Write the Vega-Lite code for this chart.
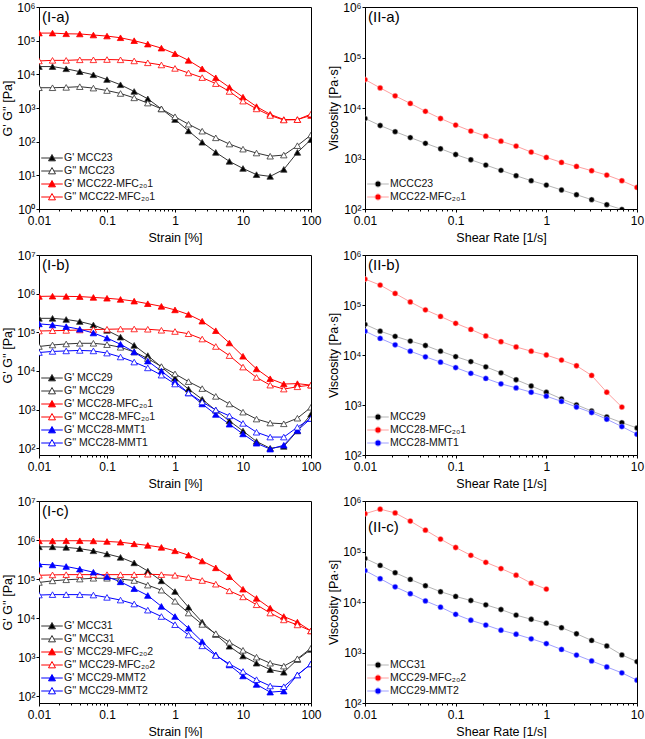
{
"$schema":"https://vega.github.io/schema/vega-lite/v6.json",
"padding":{"left":0,"top":0,"right":0,"bottom":0},
"background":"white",
"config":{
 "font":"Liberation Sans",
 "view":{"stroke":"#000000","strokeWidth":1},
 "axis":{"grid":false,"domainColor":"#000000","domainWidth":1,"tickColor":"#000000","tickSize":3,"labelColor":"#000000","labelFontSize":12,"titleColor":"#000000","titleFontSize":12.5,"titleFontWeight":"normal","labelPadding":1,"titlePadding":2,"labelFlush":false,"labelOverlap":false},
 "axisX":{"titlePadding":5,"labelPadding":3},
 "legend":{"orient":"bottom-left","offset":3,"padding":3,"labelFontSize":10.5,"labelColor":"#111111","symbolSize":160,"symbolStrokeWidth":1,"rowPadding":0,"symbolOffset":0,"labelOffset":5},
 "title":{"anchor":"start","frame":"group","fontSize":15,"fontWeight":"normal","offset":-24,"dx":3,"color":"#000000"}
},
"datasets":{
"Ia":[
{"s":"G' MCC23","x":0.01,"y":17000},{"s":"G' MCC23","x":0.0158,"y":17000},{"s":"G' MCC23","x":0.0251,"y":14600},{"s":"G' MCC23","x":0.0398,"y":12000},{"s":"G' MCC23","x":0.0631,"y":9700},{"s":"G' MCC23","x":0.1,"y":7000},{"s":"G' MCC23","x":0.158,"y":4900},{"s":"G' MCC23","x":0.251,"y":3100},{"s":"G' MCC23","x":0.398,"y":1870},{"s":"G' MCC23","x":0.631,"y":940},{"s":"G' MCC23","x":1,"y":454},{"s":"G' MCC23","x":1.58,"y":209},{"s":"G' MCC23","x":2.51,"y":96},{"s":"G' MCC23","x":3.98,"y":48},{"s":"G' MCC23","x":6.31,"y":26},{"s":"G' MCC23","x":10,"y":16},{"s":"G' MCC23","x":15.8,"y":10.5},{"s":"G' MCC23","x":25.1,"y":9.3},{"s":"G' MCC23","x":39.8,"y":15},{"s":"G' MCC23","x":63.1,"y":48},{"s":"G' MCC23","x":100,"y":115},
{"s":"G'' MCC23","x":0.01,"y":4000},{"s":"G'' MCC23","x":0.0158,"y":4000},{"s":"G'' MCC23","x":0.0251,"y":4100},{"s":"G'' MCC23","x":0.0398,"y":4300},{"s":"G'' MCC23","x":0.0631,"y":3900},{"s":"G'' MCC23","x":0.1,"y":3300},{"s":"G'' MCC23","x":0.158,"y":2700},{"s":"G'' MCC23","x":0.251,"y":2000},{"s":"G'' MCC23","x":0.398,"y":1400},{"s":"G'' MCC23","x":0.631,"y":940},{"s":"G'' MCC23","x":1,"y":550},{"s":"G'' MCC23","x":1.58,"y":330},{"s":"G'' MCC23","x":2.51,"y":205},{"s":"G'' MCC23","x":3.98,"y":130},{"s":"G'' MCC23","x":6.31,"y":85},{"s":"G'' MCC23","x":10,"y":60},{"s":"G'' MCC23","x":15.8,"y":46},{"s":"G'' MCC23","x":25.1,"y":37},{"s":"G'' MCC23","x":39.8,"y":40},{"s":"G'' MCC23","x":63.1,"y":76},{"s":"G'' MCC23","x":100,"y":158},
{"s":"G' MCC22-MFC₂₀1","x":0.01,"y":168000},{"s":"G' MCC22-MFC₂₀1","x":0.0158,"y":168000},{"s":"G' MCC22-MFC₂₀1","x":0.0251,"y":160000},{"s":"G' MCC22-MFC₂₀1","x":0.0398,"y":158000},{"s":"G' MCC22-MFC₂₀1","x":0.0631,"y":147000},{"s":"G' MCC22-MFC₂₀1","x":0.1,"y":137000},{"s":"G' MCC22-MFC₂₀1","x":0.158,"y":122000},{"s":"G' MCC22-MFC₂₀1","x":0.251,"y":100000},{"s":"G' MCC22-MFC₂₀1","x":0.398,"y":79000},{"s":"G' MCC22-MFC₂₀1","x":0.631,"y":60000},{"s":"G' MCC22-MFC₂₀1","x":1,"y":41000},{"s":"G' MCC22-MFC₂₀1","x":1.58,"y":26000},{"s":"G' MCC22-MFC₂₀1","x":2.51,"y":14600},{"s":"G' MCC22-MFC₂₀1","x":3.98,"y":7900},{"s":"G' MCC22-MFC₂₀1","x":6.31,"y":4100},{"s":"G' MCC22-MFC₂₀1","x":10,"y":2100},{"s":"G' MCC22-MFC₂₀1","x":15.8,"y":1100},{"s":"G' MCC22-MFC₂₀1","x":25.1,"y":650},{"s":"G' MCC22-MFC₂₀1","x":39.8,"y":455},{"s":"G' MCC22-MFC₂₀1","x":63.1,"y":455},{"s":"G' MCC22-MFC₂₀1","x":100,"y":600},
{"s":"G'' MCC22-MFC₂₀1","x":0.01,"y":25000},{"s":"G'' MCC22-MFC₂₀1","x":0.0158,"y":26000},{"s":"G'' MCC22-MFC₂₀1","x":0.0251,"y":26000},{"s":"G'' MCC22-MFC₂₀1","x":0.0398,"y":27000},{"s":"G'' MCC22-MFC₂₀1","x":0.0631,"y":27000},{"s":"G'' MCC22-MFC₂₀1","x":0.1,"y":27500},{"s":"G'' MCC22-MFC₂₀1","x":0.158,"y":27000},{"s":"G'' MCC22-MFC₂₀1","x":0.251,"y":25000},{"s":"G'' MCC22-MFC₂₀1","x":0.398,"y":22000},{"s":"G'' MCC22-MFC₂₀1","x":0.631,"y":19000},{"s":"G'' MCC22-MFC₂₀1","x":1,"y":15000},{"s":"G'' MCC22-MFC₂₀1","x":1.58,"y":11000},{"s":"G'' MCC22-MFC₂₀1","x":2.51,"y":8000},{"s":"G'' MCC22-MFC₂₀1","x":3.98,"y":5300},{"s":"G'' MCC22-MFC₂₀1","x":6.31,"y":3100},{"s":"G'' MCC22-MFC₂₀1","x":10,"y":1600},{"s":"G'' MCC22-MFC₂₀1","x":15.8,"y":940},{"s":"G'' MCC22-MFC₂₀1","x":25.1,"y":600},{"s":"G'' MCC22-MFC₂₀1","x":39.8,"y":440},{"s":"G'' MCC22-MFC₂₀1","x":63.1,"y":450},{"s":"G'' MCC22-MFC₂₀1","x":100,"y":660}
],
"IIa":[
{"s":"MCCC23","x":0.01,"y":6200},{"s":"MCCC23","x":0.0147,"y":4500},{"s":"MCCC23","x":0.0215,"y":3400},{"s":"MCCC23","x":0.0316,"y":2600},{"s":"MCCC23","x":0.0464,"y":2000},{"s":"MCCC23","x":0.0681,"y":1560},{"s":"MCCC23","x":0.1,"y":1200},{"s":"MCCC23","x":0.147,"y":944},{"s":"MCCC23","x":0.215,"y":742},{"s":"MCCC23","x":0.316,"y":582},{"s":"MCCC23","x":0.464,"y":457},{"s":"MCCC23","x":0.681,"y":363},{"s":"MCCC23","x":1,"y":298},{"s":"MCCC23","x":1.47,"y":238},{"s":"MCCC23","x":2.15,"y":192},{"s":"MCCC23","x":3.16,"y":153},{"s":"MCCC23","x":4.64,"y":122},{"s":"MCCC23","x":6.81,"y":98},
{"s":"MCC22-MFC₂₀1","x":0.01,"y":36600},{"s":"MCC22-MFC₂₀1","x":0.0147,"y":25000},{"s":"MCC22-MFC₂₀1","x":0.0215,"y":17400},{"s":"MCC22-MFC₂₀1","x":0.0316,"y":12300},{"s":"MCC22-MFC₂₀1","x":0.0464,"y":8600},{"s":"MCC22-MFC₂₀1","x":0.0681,"y":6200},{"s":"MCC22-MFC₂₀1","x":0.1,"y":4600},{"s":"MCC22-MFC₂₀1","x":0.147,"y":3500},{"s":"MCC22-MFC₂₀1","x":0.215,"y":2770},{"s":"MCC22-MFC₂₀1","x":0.316,"y":2200},{"s":"MCC22-MFC₂₀1","x":0.464,"y":1760},{"s":"MCC22-MFC₂₀1","x":0.681,"y":1340},{"s":"MCC22-MFC₂₀1","x":1,"y":1050},{"s":"MCC22-MFC₂₀1","x":1.47,"y":837},{"s":"MCC22-MFC₂₀1","x":2.15,"y":697},{"s":"MCC22-MFC₂₀1","x":3.16,"y":573},{"s":"MCC22-MFC₂₀1","x":4.64,"y":470},{"s":"MCC22-MFC₂₀1","x":6.81,"y":363},{"s":"MCC22-MFC₂₀1","x":10,"y":268}
],
"Ib":[
{"s":"G' MCC29","x":0.01,"y":230000},{"s":"G' MCC29","x":0.0158,"y":230000},{"s":"G' MCC29","x":0.0251,"y":215000},{"s":"G' MCC29","x":0.0398,"y":190000},{"s":"G' MCC29","x":0.0631,"y":155000},{"s":"G' MCC29","x":0.1,"y":112000},{"s":"G' MCC29","x":0.158,"y":75000},{"s":"G' MCC29","x":0.251,"y":46000},{"s":"G' MCC29","x":0.398,"y":25000},{"s":"G' MCC29","x":0.631,"y":12700},{"s":"G' MCC29","x":1,"y":6500},{"s":"G' MCC29","x":1.58,"y":3400},{"s":"G' MCC29","x":2.51,"y":1850},{"s":"G' MCC29","x":3.98,"y":960},{"s":"G' MCC29","x":6.31,"y":510},{"s":"G' MCC29","x":10,"y":280},{"s":"G' MCC29","x":15.8,"y":150},{"s":"G' MCC29","x":25.1,"y":100},{"s":"G' MCC29","x":39.8,"y":112},{"s":"G' MCC29","x":63.1,"y":280},{"s":"G' MCC29","x":100,"y":760},
{"s":"G'' MCC29","x":0.01,"y":43000},{"s":"G'' MCC29","x":0.0158,"y":47000},{"s":"G'' MCC29","x":0.0251,"y":50000},{"s":"G'' MCC29","x":0.0398,"y":52000},{"s":"G'' MCC29","x":0.0631,"y":52000},{"s":"G'' MCC29","x":0.1,"y":48000},{"s":"G'' MCC29","x":0.158,"y":41000},{"s":"G'' MCC29","x":0.251,"y":31000},{"s":"G'' MCC29","x":0.398,"y":21000},{"s":"G'' MCC29","x":0.631,"y":13000},{"s":"G'' MCC29","x":1,"y":8400},{"s":"G'' MCC29","x":1.58,"y":5300},{"s":"G'' MCC29","x":2.51,"y":3500},{"s":"G'' MCC29","x":3.98,"y":2200},{"s":"G'' MCC29","x":6.31,"y":1400},{"s":"G'' MCC29","x":10,"y":860},{"s":"G'' MCC29","x":15.8,"y":570},{"s":"G'' MCC29","x":25.1,"y":450},{"s":"G'' MCC29","x":39.8,"y":430},{"s":"G'' MCC29","x":63.1,"y":600},{"s":"G'' MCC29","x":100,"y":1150},
{"s":"G' MCC28-MFC₂₀1","x":0.01,"y":850000},{"s":"G' MCC28-MFC₂₀1","x":0.0158,"y":860000},{"s":"G' MCC28-MFC₂₀1","x":0.0251,"y":850000},{"s":"G' MCC28-MFC₂₀1","x":0.0398,"y":840000},{"s":"G' MCC28-MFC₂₀1","x":0.0631,"y":800000},{"s":"G' MCC28-MFC₂₀1","x":0.1,"y":760000},{"s":"G' MCC28-MFC₂₀1","x":0.158,"y":710000},{"s":"G' MCC28-MFC₂₀1","x":0.251,"y":640000},{"s":"G' MCC28-MFC₂₀1","x":0.398,"y":550000},{"s":"G' MCC28-MFC₂₀1","x":0.631,"y":470000},{"s":"G' MCC28-MFC₂₀1","x":1,"y":380000},{"s":"G' MCC28-MFC₂₀1","x":1.58,"y":290000},{"s":"G' MCC28-MFC₂₀1","x":2.51,"y":194000},{"s":"G' MCC28-MFC₂₀1","x":3.98,"y":110000},{"s":"G' MCC28-MFC₂₀1","x":6.31,"y":53000},{"s":"G' MCC28-MFC₂₀1","x":10,"y":24000},{"s":"G' MCC28-MFC₂₀1","x":15.8,"y":11300},{"s":"G' MCC28-MFC₂₀1","x":25.1,"y":6300},{"s":"G' MCC28-MFC₂₀1","x":39.8,"y":4600},{"s":"G' MCC28-MFC₂₀1","x":63.1,"y":4700},{"s":"G' MCC28-MFC₂₀1","x":100,"y":4300},
{"s":"G'' MCC28-MFC₂₀1","x":0.01,"y":108000},{"s":"G'' MCC28-MFC₂₀1","x":0.0158,"y":110000},{"s":"G'' MCC28-MFC₂₀1","x":0.0251,"y":112000},{"s":"G'' MCC28-MFC₂₀1","x":0.0398,"y":115000},{"s":"G'' MCC28-MFC₂₀1","x":0.0631,"y":118000},{"s":"G'' MCC28-MFC₂₀1","x":0.1,"y":120000},{"s":"G'' MCC28-MFC₂₀1","x":0.158,"y":122000},{"s":"G'' MCC28-MFC₂₀1","x":0.251,"y":122000},{"s":"G'' MCC28-MFC₂₀1","x":0.398,"y":120000},{"s":"G'' MCC28-MFC₂₀1","x":0.631,"y":113000},{"s":"G'' MCC28-MFC₂₀1","x":1,"y":105000},{"s":"G'' MCC28-MFC₂₀1","x":1.58,"y":92000},{"s":"G'' MCC28-MFC₂₀1","x":2.51,"y":67000},{"s":"G'' MCC28-MFC₂₀1","x":3.98,"y":43000},{"s":"G'' MCC28-MFC₂₀1","x":6.31,"y":25000},{"s":"G'' MCC28-MFC₂₀1","x":10,"y":12600},{"s":"G'' MCC28-MFC₂₀1","x":15.8,"y":6800},{"s":"G'' MCC28-MFC₂₀1","x":25.1,"y":4300},{"s":"G'' MCC28-MFC₂₀1","x":39.8,"y":3400},{"s":"G'' MCC28-MFC₂₀1","x":63.1,"y":3900},{"s":"G'' MCC28-MFC₂₀1","x":100,"y":4300},
{"s":"G' MCC28-MMT1","x":0.01,"y":165000},{"s":"G' MCC28-MMT1","x":0.0158,"y":155000},{"s":"G' MCC28-MMT1","x":0.0251,"y":140000},{"s":"G' MCC28-MMT1","x":0.0398,"y":120000},{"s":"G' MCC28-MMT1","x":0.0631,"y":96000},{"s":"G' MCC28-MMT1","x":0.1,"y":71000},{"s":"G' MCC28-MMT1","x":0.158,"y":49000},{"s":"G' MCC28-MMT1","x":0.251,"y":31000},{"s":"G' MCC28-MMT1","x":0.398,"y":18000},{"s":"G' MCC28-MMT1","x":0.631,"y":9900},{"s":"G' MCC28-MMT1","x":1,"y":5300},{"s":"G' MCC28-MMT1","x":1.58,"y":2700},{"s":"G' MCC28-MMT1","x":2.51,"y":1400},{"s":"G' MCC28-MMT1","x":3.98,"y":750},{"s":"G' MCC28-MMT1","x":6.31,"y":420},{"s":"G' MCC28-MMT1","x":10,"y":235},{"s":"G' MCC28-MMT1","x":15.8,"y":135},{"s":"G' MCC28-MMT1","x":25.1,"y":95},{"s":"G' MCC28-MMT1","x":39.8,"y":120},{"s":"G' MCC28-MMT1","x":63.1,"y":290},{"s":"G' MCC28-MMT1","x":100,"y":590},
{"s":"G'' MCC28-MMT1","x":0.01,"y":30000},{"s":"G'' MCC28-MMT1","x":0.0158,"y":32000},{"s":"G'' MCC28-MMT1","x":0.0251,"y":33000},{"s":"G'' MCC28-MMT1","x":0.0398,"y":34000},{"s":"G'' MCC28-MMT1","x":0.0631,"y":33000},{"s":"G'' MCC28-MMT1","x":0.1,"y":29000},{"s":"G'' MCC28-MMT1","x":0.158,"y":23000},{"s":"G'' MCC28-MMT1","x":0.251,"y":17000},{"s":"G'' MCC28-MMT1","x":0.398,"y":12000},{"s":"G'' MCC28-MMT1","x":0.631,"y":7800},{"s":"G'' MCC28-MMT1","x":1,"y":4600},{"s":"G'' MCC28-MMT1","x":1.58,"y":2700},{"s":"G'' MCC28-MMT1","x":2.51,"y":1580},{"s":"G'' MCC28-MMT1","x":3.98,"y":980},{"s":"G'' MCC28-MMT1","x":6.31,"y":690},{"s":"G'' MCC28-MMT1","x":10,"y":440},{"s":"G'' MCC28-MMT1","x":15.8,"y":260},{"s":"G'' MCC28-MMT1","x":25.1,"y":195},{"s":"G'' MCC28-MMT1","x":39.8,"y":195},{"s":"G'' MCC28-MMT1","x":63.1,"y":350},{"s":"G'' MCC28-MMT1","x":100,"y":590}
],
"IIb":[
{"s":"MCC29","x":0.01,"y":41000},{"s":"MCC29","x":0.0147,"y":30000},{"s":"MCC29","x":0.0215,"y":23600},{"s":"MCC29","x":0.0316,"y":19000},{"s":"MCC29","x":0.0464,"y":15500},{"s":"MCC29","x":0.0681,"y":11900},{"s":"MCC29","x":0.1,"y":9300},{"s":"MCC29","x":0.147,"y":7400},{"s":"MCC29","x":0.215,"y":5800},{"s":"MCC29","x":0.316,"y":4400},{"s":"MCC29","x":0.464,"y":3200},{"s":"MCC29","x":0.681,"y":2400},{"s":"MCC29","x":1,"y":1800},{"s":"MCC29","x":1.47,"y":1330},{"s":"MCC29","x":2.15,"y":1010},{"s":"MCC29","x":3.16,"y":758},{"s":"MCC29","x":4.64,"y":577},{"s":"MCC29","x":6.81,"y":444},{"s":"MCC29","x":10,"y":347},
{"s":"MCC28-MFC₂₀1","x":0.01,"y":330000},{"s":"MCC28-MFC₂₀1","x":0.0147,"y":250000},{"s":"MCC28-MFC₂₀1","x":0.0215,"y":170000},{"s":"MCC28-MFC₂₀1","x":0.0316,"y":115000},{"s":"MCC28-MFC₂₀1","x":0.0464,"y":80000},{"s":"MCC28-MFC₂₀1","x":0.0681,"y":59000},{"s":"MCC28-MFC₂₀1","x":0.1,"y":43000},{"s":"MCC28-MFC₂₀1","x":0.147,"y":32500},{"s":"MCC28-MFC₂₀1","x":0.215,"y":24000},{"s":"MCC28-MFC₂₀1","x":0.316,"y":18500},{"s":"MCC28-MFC₂₀1","x":0.464,"y":14500},{"s":"MCC28-MFC₂₀1","x":0.681,"y":11900},{"s":"MCC28-MFC₂₀1","x":1,"y":10000},{"s":"MCC28-MFC₂₀1","x":1.47,"y":7900},{"s":"MCC28-MFC₂₀1","x":2.15,"y":6100},{"s":"MCC28-MFC₂₀1","x":3.16,"y":3900},{"s":"MCC28-MFC₂₀1","x":4.64,"y":1800},{"s":"MCC28-MFC₂₀1","x":6.81,"y":910},
{"s":"MCC28-MMT1","x":0.01,"y":30000},{"s":"MCC28-MMT1","x":0.0147,"y":21500},{"s":"MCC28-MMT1","x":0.0215,"y":16000},{"s":"MCC28-MMT1","x":0.0316,"y":11900},{"s":"MCC28-MMT1","x":0.0464,"y":9200},{"s":"MCC28-MMT1","x":0.0681,"y":7200},{"s":"MCC28-MMT1","x":0.1,"y":5600},{"s":"MCC28-MMT1","x":0.147,"y":4300},{"s":"MCC28-MMT1","x":0.215,"y":3400},{"s":"MCC28-MMT1","x":0.316,"y":2650},{"s":"MCC28-MMT1","x":0.464,"y":2200},{"s":"MCC28-MMT1","x":0.681,"y":1800},{"s":"MCC28-MMT1","x":1,"y":1500},{"s":"MCC28-MMT1","x":1.47,"y":1180},{"s":"MCC28-MMT1","x":2.15,"y":910},{"s":"MCC28-MMT1","x":3.16,"y":706},{"s":"MCC28-MMT1","x":4.64,"y":519},{"s":"MCC28-MMT1","x":6.81,"y":370},{"s":"MCC28-MMT1","x":10,"y":260}
],
"Ic":[
{"s":"G' MCC31","x":0.01,"y":670000},{"s":"G' MCC31","x":0.0158,"y":670000},{"s":"G' MCC31","x":0.0251,"y":650000},{"s":"G' MCC31","x":0.0398,"y":600000},{"s":"G' MCC31","x":0.0631,"y":530000},{"s":"G' MCC31","x":0.1,"y":440000},{"s":"G' MCC31","x":0.158,"y":360000},{"s":"G' MCC31","x":0.251,"y":260000},{"s":"G' MCC31","x":0.398,"y":160000},{"s":"G' MCC31","x":0.631,"y":90000},{"s":"G' MCC31","x":1,"y":48000},{"s":"G' MCC31","x":1.58,"y":19000},{"s":"G' MCC31","x":2.51,"y":7900},{"s":"G' MCC31","x":3.98,"y":3800},{"s":"G' MCC31","x":6.31,"y":1900},{"s":"G' MCC31","x":10,"y":1070},{"s":"G' MCC31","x":15.8,"y":700},{"s":"G' MCC31","x":25.1,"y":480},{"s":"G' MCC31","x":39.8,"y":410},{"s":"G' MCC31","x":63.1,"y":870},{"s":"G' MCC31","x":100,"y":1580},
{"s":"G'' MCC31","x":0.01,"y":82000},{"s":"G'' MCC31","x":0.0158,"y":90000},{"s":"G'' MCC31","x":0.0251,"y":96000},{"s":"G'' MCC31","x":0.0398,"y":100000},{"s":"G'' MCC31","x":0.0631,"y":105000},{"s":"G'' MCC31","x":0.1,"y":105000},{"s":"G'' MCC31","x":0.158,"y":100000},{"s":"G'' MCC31","x":0.251,"y":92000},{"s":"G'' MCC31","x":0.398,"y":70000},{"s":"G'' MCC31","x":0.631,"y":52000},{"s":"G'' MCC31","x":1,"y":27000},{"s":"G'' MCC31","x":1.58,"y":13500},{"s":"G'' MCC31","x":2.51,"y":6900},{"s":"G'' MCC31","x":3.98,"y":4000},{"s":"G'' MCC31","x":6.31,"y":2400},{"s":"G'' MCC31","x":10,"y":1500},{"s":"G'' MCC31","x":15.8,"y":1000},{"s":"G'' MCC31","x":25.1,"y":700},{"s":"G'' MCC31","x":39.8,"y":590},{"s":"G'' MCC31","x":63.1,"y":910},{"s":"G'' MCC31","x":100,"y":1700},
{"s":"G' MCC29-MFC₂₀2","x":0.01,"y":950000},{"s":"G' MCC29-MFC₂₀2","x":0.0158,"y":950000},{"s":"G' MCC29-MFC₂₀2","x":0.0251,"y":960000},{"s":"G' MCC29-MFC₂₀2","x":0.0398,"y":960000},{"s":"G' MCC29-MFC₂₀2","x":0.0631,"y":950000},{"s":"G' MCC29-MFC₂₀2","x":0.1,"y":920000},{"s":"G' MCC29-MFC₂₀2","x":0.158,"y":880000},{"s":"G' MCC29-MFC₂₀2","x":0.251,"y":800000},{"s":"G' MCC29-MFC₂₀2","x":0.398,"y":730000},{"s":"G' MCC29-MFC₂₀2","x":0.631,"y":650000},{"s":"G' MCC29-MFC₂₀2","x":1,"y":530000},{"s":"G' MCC29-MFC₂₀2","x":1.58,"y":410000},{"s":"G' MCC29-MFC₂₀2","x":2.51,"y":290000},{"s":"G' MCC29-MFC₂₀2","x":3.98,"y":194000},{"s":"G' MCC29-MFC₂₀2","x":6.31,"y":115000},{"s":"G' MCC29-MFC₂₀2","x":10,"y":55000},{"s":"G' MCC29-MFC₂₀2","x":15.8,"y":32000},{"s":"G' MCC29-MFC₂₀2","x":25.1,"y":18000},{"s":"G' MCC29-MFC₂₀2","x":39.8,"y":11000},{"s":"G' MCC29-MFC₂₀2","x":63.1,"y":7900},{"s":"G' MCC29-MFC₂₀2","x":100,"y":4700},
{"s":"G'' MCC29-MFC₂₀2","x":0.01,"y":125000},{"s":"G'' MCC29-MFC₂₀2","x":0.0158,"y":128000},{"s":"G'' MCC29-MFC₂₀2","x":0.0251,"y":130000},{"s":"G'' MCC29-MFC₂₀2","x":0.0398,"y":130000},{"s":"G'' MCC29-MFC₂₀2","x":0.0631,"y":130000},{"s":"G'' MCC29-MFC₂₀2","x":0.1,"y":130000},{"s":"G'' MCC29-MFC₂₀2","x":0.158,"y":130000},{"s":"G'' MCC29-MFC₂₀2","x":0.251,"y":130000},{"s":"G'' MCC29-MFC₂₀2","x":0.398,"y":133000},{"s":"G'' MCC29-MFC₂₀2","x":0.631,"y":130000},{"s":"G'' MCC29-MFC₂₀2","x":1,"y":125000},{"s":"G'' MCC29-MFC₂₀2","x":1.58,"y":110000},{"s":"G'' MCC29-MFC₂₀2","x":2.51,"y":92000},{"s":"G'' MCC29-MFC₂₀2","x":3.98,"y":74000},{"s":"G'' MCC29-MFC₂₀2","x":6.31,"y":50000},{"s":"G'' MCC29-MFC₂₀2","x":10,"y":35000},{"s":"G'' MCC29-MFC₂₀2","x":15.8,"y":22000},{"s":"G'' MCC29-MFC₂₀2","x":25.1,"y":13500},{"s":"G'' MCC29-MFC₂₀2","x":39.8,"y":9000},{"s":"G'' MCC29-MFC₂₀2","x":63.1,"y":6700},{"s":"G'' MCC29-MFC₂₀2","x":100,"y":4700},
{"s":"G' MCC29-MMT2","x":0.01,"y":240000},{"s":"G' MCC29-MMT2","x":0.0158,"y":230000},{"s":"G' MCC29-MMT2","x":0.0251,"y":210000},{"s":"G' MCC29-MMT2","x":0.0398,"y":180000},{"s":"G' MCC29-MMT2","x":0.0631,"y":150000},{"s":"G' MCC29-MMT2","x":0.1,"y":115000},{"s":"G' MCC29-MMT2","x":0.158,"y":85000},{"s":"G' MCC29-MMT2","x":0.251,"y":57000},{"s":"G' MCC29-MMT2","x":0.398,"y":38000},{"s":"G' MCC29-MMT2","x":0.631,"y":20000},{"s":"G' MCC29-MMT2","x":1,"y":11000},{"s":"G' MCC29-MMT2","x":1.58,"y":5500},{"s":"G' MCC29-MMT2","x":2.51,"y":2500},{"s":"G' MCC29-MMT2","x":3.98,"y":1150},{"s":"G' MCC29-MMT2","x":6.31,"y":630},{"s":"G' MCC29-MMT2","x":10,"y":330},{"s":"G' MCC29-MMT2","x":15.8,"y":200},{"s":"G' MCC29-MMT2","x":25.1,"y":127},{"s":"G' MCC29-MMT2","x":39.8,"y":135},{"s":"G' MCC29-MMT2","x":63.1,"y":350},{"s":"G' MCC29-MMT2","x":100,"y":670},
{"s":"G'' MCC29-MMT2","x":0.01,"y":39000},{"s":"G'' MCC29-MMT2","x":0.0158,"y":40000},{"s":"G'' MCC29-MMT2","x":0.0251,"y":40000},{"s":"G'' MCC29-MMT2","x":0.0398,"y":40000},{"s":"G'' MCC29-MMT2","x":0.0631,"y":39000},{"s":"G'' MCC29-MMT2","x":0.1,"y":34000},{"s":"G'' MCC29-MMT2","x":0.158,"y":29000},{"s":"G'' MCC29-MMT2","x":0.251,"y":23000},{"s":"G'' MCC29-MMT2","x":0.398,"y":16000},{"s":"G'' MCC29-MMT2","x":0.631,"y":11000},{"s":"G'' MCC29-MMT2","x":1,"y":6800},{"s":"G'' MCC29-MMT2","x":1.58,"y":3700},{"s":"G'' MCC29-MMT2","x":2.51,"y":1950},{"s":"G'' MCC29-MMT2","x":3.98,"y":1100},{"s":"G'' MCC29-MMT2","x":6.31,"y":670},{"s":"G'' MCC29-MMT2","x":10,"y":430},{"s":"G'' MCC29-MMT2","x":15.8,"y":265},{"s":"G'' MCC29-MMT2","x":25.1,"y":183},{"s":"G'' MCC29-MMT2","x":39.8,"y":175},{"s":"G'' MCC29-MMT2","x":63.1,"y":350},{"s":"G'' MCC29-MMT2","x":100,"y":670}
],
"IIc":[
{"s":"MCC31","x":0.01,"y":73000},{"s":"MCC31","x":0.0147,"y":53000},{"s":"MCC31","x":0.0215,"y":38000},{"s":"MCC31","x":0.0316,"y":28000},{"s":"MCC31","x":0.0464,"y":21000},{"s":"MCC31","x":0.0681,"y":16000},{"s":"MCC31","x":0.1,"y":12900},{"s":"MCC31","x":0.147,"y":10700},{"s":"MCC31","x":0.215,"y":8800},{"s":"MCC31","x":0.316,"y":7100},{"s":"MCC31","x":0.464,"y":5500},{"s":"MCC31","x":0.681,"y":4550},{"s":"MCC31","x":1,"y":3800},{"s":"MCC31","x":1.47,"y":3100},{"s":"MCC31","x":2.15,"y":2350},{"s":"MCC31","x":3.16,"y":1730},{"s":"MCC31","x":4.64,"y":1350},{"s":"MCC31","x":6.81,"y":895},{"s":"MCC31","x":10,"y":660},
{"s":"MCC29-MFC₂₀2","x":0.01,"y":560000},{"s":"MCC29-MFC₂₀2","x":0.0147,"y":690000},{"s":"MCC29-MFC₂₀2","x":0.0215,"y":580000},{"s":"MCC29-MFC₂₀2","x":0.0316,"y":400000},{"s":"MCC29-MFC₂₀2","x":0.0464,"y":265000},{"s":"MCC29-MFC₂₀2","x":0.0681,"y":176000},{"s":"MCC29-MFC₂₀2","x":0.1,"y":120000},{"s":"MCC29-MFC₂₀2","x":0.147,"y":84000},{"s":"MCC29-MFC₂₀2","x":0.215,"y":61000},{"s":"MCC29-MFC₂₀2","x":0.316,"y":46000},{"s":"MCC29-MFC₂₀2","x":0.464,"y":34000},{"s":"MCC29-MFC₂₀2","x":0.681,"y":23600},{"s":"MCC29-MFC₂₀2","x":1,"y":18000},
{"s":"MCC29-MMT2","x":0.01,"y":42000},{"s":"MCC29-MMT2","x":0.0147,"y":29000},{"s":"MCC29-MMT2","x":0.0215,"y":20000},{"s":"MCC29-MMT2","x":0.0316,"y":14600},{"s":"MCC29-MMT2","x":0.0464,"y":10500},{"s":"MCC29-MMT2","x":0.0681,"y":7900},{"s":"MCC29-MMT2","x":0.1,"y":5700},{"s":"MCC29-MMT2","x":0.147,"y":4350},{"s":"MCC29-MMT2","x":0.215,"y":3500},{"s":"MCC29-MMT2","x":0.316,"y":2760},{"s":"MCC29-MMT2","x":0.464,"y":2300},{"s":"MCC29-MMT2","x":0.681,"y":1870},{"s":"MCC29-MMT2","x":1,"y":1500},{"s":"MCC29-MMT2","x":1.47,"y":1150},{"s":"MCC29-MMT2","x":2.15,"y":890},{"s":"MCC29-MMT2","x":3.16,"y":680},{"s":"MCC29-MMT2","x":4.64,"y":518},{"s":"MCC29-MMT2","x":6.81,"y":395},{"s":"MCC29-MMT2","x":10,"y":283}
]
},
"columns":2,
"spacing":{"row":4,"column":4},
"resolve":{"scale":{"x":"independent","y":"independent","fill":"independent","stroke":"independent"},"legend":{"fill":"independent","stroke":"independent"}},
"concat":[
{"width":272,"height":202,"title":{"text":"(I-a)"},"data":{"name":"Ia"},
 "resolve":{"axis":{"x":"independent"}},
 "encoding":{
  "x":{"field":"x","type":"quantitative","scale":{"type":"log","domain":[0.01,100],"nice":false},"axis":{"orient":"bottom","values":[0.01,0.1,1,10,100],"format":"~g","title":"Strain [%]"}},
  "y":{"field":"y","type":"quantitative","scale":{"type":"log","domain":[1,1000000],"nice":false},"axis":{"values":[1,10,100,1000,10000,100000,1000000],"labelExpr":"'10' + ['⁰','¹','²','³','⁴','⁵','⁶','⁷','⁸'][round(log(datum.value)/LN10)]","title":"G' G'' [Pa]"}},
  "stroke":{"field":"s","type":"nominal","scale":{"domain":["G' MCC23","G'' MCC23","G' MCC22-MFC₂₀1","G'' MCC22-MFC₂₀1"],"range":["#333333","#333333","#ff0000","#ff0000"]},"legend":{"title":null,"symbolType":"M-1.7,0H-0.3M0.3,0H1.7M0,-0.55L0.55,0.45L-0.55,0.45Z"}}
 },
 "layer":[
  {"mark":{"type":"line","strokeWidth":1,"clip":true},"encoding":{"x":{"field":"x","type":"quantitative","axis":{"orient":"bottom","values":[0.02,0.03,0.04,0.05,0.06,0.07,0.08,0.09,0.2,0.3,0.4,0.5,0.6,0.7,0.8,0.9,2,3,4,5,6,7,8,9,20,30,40,50,60,70,80,90],"labels":false,"domain":false,"tickSize":2,"title":null}}}},
  {"mark":{"type":"point","shape":"triangle-up","filled":true,"size":42,"strokeWidth":0.8,"opacity":1,"clip":true},
   "encoding":{"fill":{"field":"s","type":"nominal","scale":{"domain":["G' MCC23","G'' MCC23","G' MCC22-MFC₂₀1","G'' MCC22-MFC₂₀1"],"range":["#000000","#ffffff","#ff0000","#ffffff"]},"legend":{"title":null,"symbolType":"M-1.7,0H-0.3M0.3,0H1.7M0,-0.55L0.55,0.45L-0.55,0.45Z"}}}}
 ]
},
{"width":272,"height":202,"title":{"text":"(II-a)"},"data":{"name":"IIa"},
 "resolve":{"axis":{"x":"independent"}},
 "encoding":{
  "x":{"field":"x","type":"quantitative","scale":{"type":"log","domain":[0.01,10],"nice":false},"axis":{"orient":"bottom","values":[0.01,0.1,1,10],"format":"~g","title":"Shear Rate [1/s]"}},
  "y":{"field":"y","type":"quantitative","scale":{"type":"log","domain":[100,1000000],"nice":false},"axis":{"values":[100,1000,10000,100000,1000000],"labelExpr":"'10' + ['⁰','¹','²','³','⁴','⁵','⁶','⁷','⁸'][round(log(datum.value)/LN10)]","title":"Viscosity [Pa·s]"}},
  "stroke":{"field":"s","type":"nominal","scale":{"domain":["MCCC23","MCC22-MFC₂₀1"],"range":["#b5b5b5","#ffa0a0"]},"legend":{"title":null,"symbolType":"M-1.7,0H-0.48M0.48,0H1.7M0.48,0A0.48,0.48,0,1,1,-0.48,0A0.48,0.48,0,1,1,0.48,0Z"}}
 },
 "layer":[
  {"mark":{"type":"line","strokeWidth":1,"clip":true},"encoding":{"x":{"field":"x","type":"quantitative","axis":{"orient":"bottom","values":[0.02,0.03,0.04,0.05,0.06,0.07,0.08,0.09,0.2,0.3,0.4,0.5,0.6,0.7,0.8,0.9,2,3,4,5,6,7,8,9],"labels":false,"domain":false,"tickSize":2,"title":null}}}},
  {"mark":{"type":"point","shape":"circle","filled":true,"size":28,"strokeWidth":0.5,"opacity":1,"clip":true},
   "encoding":{"fill":{"field":"s","type":"nominal","scale":{"domain":["MCCC23","MCC22-MFC₂₀1"],"range":["#000000","#ff0000"]},"legend":{"title":null,"symbolType":"M-1.7,0H-0.48M0.48,0H1.7M0.48,0A0.48,0.48,0,1,1,-0.48,0A0.48,0.48,0,1,1,0.48,0Z"}}}}
 ]
},
{"width":272,"height":200,"title":{"text":"(I-b)"},"data":{"name":"Ib"},
 "resolve":{"axis":{"x":"independent"}},
 "encoding":{
  "x":{"field":"x","type":"quantitative","scale":{"type":"log","domain":[0.01,100],"nice":false},"axis":{"orient":"bottom","values":[0.01,0.1,1,10,100],"format":"~g","title":"Strain [%]"}},
  "y":{"field":"y","type":"quantitative","scale":{"type":"log","domain":[67,10000000],"nice":false},"axis":{"values":[100,1000,10000,100000,1000000,10000000],"labelExpr":"'10' + ['⁰','¹','²','³','⁴','⁵','⁶','⁷','⁸'][round(log(datum.value)/LN10)]","title":"G' G'' [Pa]"}},
  "stroke":{"field":"s","type":"nominal","scale":{"domain":["G' MCC29","G'' MCC29","G' MCC28-MFC₂₀1","G'' MCC28-MFC₂₀1","G' MCC28-MMT1","G'' MCC28-MMT1"],"range":["#333333","#333333","#ff0000","#ff0000","#0000ff","#0000ff"]},"legend":{"title":null,"symbolType":"M-1.7,0H-0.3M0.3,0H1.7M0,-0.55L0.55,0.45L-0.55,0.45Z"}}
 },
 "layer":[
  {"mark":{"type":"line","strokeWidth":1,"clip":true},"encoding":{"x":{"field":"x","type":"quantitative","axis":{"orient":"bottom","values":[0.02,0.03,0.04,0.05,0.06,0.07,0.08,0.09,0.2,0.3,0.4,0.5,0.6,0.7,0.8,0.9,2,3,4,5,6,7,8,9,20,30,40,50,60,70,80,90],"labels":false,"domain":false,"tickSize":2,"title":null}}}},
  {"mark":{"type":"point","shape":"triangle-up","filled":true,"size":42,"strokeWidth":0.8,"opacity":1,"clip":true},
   "encoding":{"fill":{"field":"s","type":"nominal","scale":{"domain":["G' MCC29","G'' MCC29","G' MCC28-MFC₂₀1","G'' MCC28-MFC₂₀1","G' MCC28-MMT1","G'' MCC28-MMT1"],"range":["#000000","#ffffff","#ff0000","#ffffff","#0000ff","#ffffff"]},"legend":{"title":null,"symbolType":"M-1.7,0H-0.3M0.3,0H1.7M0,-0.55L0.55,0.45L-0.55,0.45Z"}}}}
 ]
},
{"width":272,"height":200,"title":{"text":"(II-b)"},"data":{"name":"IIb"},
 "resolve":{"axis":{"x":"independent"}},
 "encoding":{
  "x":{"field":"x","type":"quantitative","scale":{"type":"log","domain":[0.01,10],"nice":false},"axis":{"orient":"bottom","values":[0.01,0.1,1,10],"format":"~g","title":"Shear Rate [1/s]"}},
  "y":{"field":"y","type":"quantitative","scale":{"type":"log","domain":[100,1000000],"nice":false},"axis":{"values":[100,1000,10000,100000,1000000],"labelExpr":"'10' + ['⁰','¹','²','³','⁴','⁵','⁶','⁷','⁸'][round(log(datum.value)/LN10)]","title":"Viscosity [Pa·s]"}},
  "stroke":{"field":"s","type":"nominal","scale":{"domain":["MCC29","MCC28-MFC₂₀1","MCC28-MMT1"],"range":["#b5b5b5","#ffa0a0","#a0a0ff"]},"legend":{"title":null,"symbolType":"M-1.7,0H-0.48M0.48,0H1.7M0.48,0A0.48,0.48,0,1,1,-0.48,0A0.48,0.48,0,1,1,0.48,0Z"}}
 },
 "layer":[
  {"mark":{"type":"line","strokeWidth":1,"clip":true},"encoding":{"x":{"field":"x","type":"quantitative","axis":{"orient":"bottom","values":[0.02,0.03,0.04,0.05,0.06,0.07,0.08,0.09,0.2,0.3,0.4,0.5,0.6,0.7,0.8,0.9,2,3,4,5,6,7,8,9],"labels":false,"domain":false,"tickSize":2,"title":null}}}},
  {"mark":{"type":"point","shape":"circle","filled":true,"size":28,"strokeWidth":0.5,"opacity":1,"clip":true},
   "encoding":{"fill":{"field":"s","type":"nominal","scale":{"domain":["MCC29","MCC28-MFC₂₀1","MCC28-MMT1"],"range":["#000000","#ff0000","#0000ff"]},"legend":{"title":null,"symbolType":"M-1.7,0H-0.48M0.48,0H1.7M0.48,0A0.48,0.48,0,1,1,-0.48,0A0.48,0.48,0,1,1,0.48,0Z"}}}}
 ]
},
{"width":272,"height":202,"title":{"text":"(I-c)"},"data":{"name":"Ic"},
 "resolve":{"axis":{"x":"independent"}},
 "encoding":{
  "x":{"field":"x","type":"quantitative","scale":{"type":"log","domain":[0.01,100],"nice":false},"axis":{"orient":"bottom","values":[0.01,0.1,1,10,100],"format":"~g","title":"Strain [%]"}},
  "y":{"field":"y","type":"quantitative","scale":{"type":"log","domain":[67,10000000],"nice":false},"axis":{"values":[100,1000,10000,100000,1000000,10000000],"labelExpr":"'10' + ['⁰','¹','²','³','⁴','⁵','⁶','⁷','⁸'][round(log(datum.value)/LN10)]","title":"G' G'' [Pa]"}},
  "stroke":{"field":"s","type":"nominal","scale":{"domain":["G' MCC31","G'' MCC31","G' MCC29-MFC₂₀2","G'' MCC29-MFC₂₀2","G' MCC29-MMT2","G'' MCC29-MMT2"],"range":["#333333","#333333","#ff0000","#ff0000","#0000ff","#0000ff"]},"legend":{"title":null,"symbolType":"M-1.7,0H-0.3M0.3,0H1.7M0,-0.55L0.55,0.45L-0.55,0.45Z"}}
 },
 "layer":[
  {"mark":{"type":"line","strokeWidth":1,"clip":true},"encoding":{"x":{"field":"x","type":"quantitative","axis":{"orient":"bottom","values":[0.02,0.03,0.04,0.05,0.06,0.07,0.08,0.09,0.2,0.3,0.4,0.5,0.6,0.7,0.8,0.9,2,3,4,5,6,7,8,9,20,30,40,50,60,70,80,90],"labels":false,"domain":false,"tickSize":2,"title":null}}}},
  {"mark":{"type":"point","shape":"triangle-up","filled":true,"size":42,"strokeWidth":0.8,"opacity":1,"clip":true},
   "encoding":{"fill":{"field":"s","type":"nominal","scale":{"domain":["G' MCC31","G'' MCC31","G' MCC29-MFC₂₀2","G'' MCC29-MFC₂₀2","G' MCC29-MMT2","G'' MCC29-MMT2"],"range":["#000000","#ffffff","#ff0000","#ffffff","#0000ff","#ffffff"]},"legend":{"title":null,"symbolType":"M-1.7,0H-0.3M0.3,0H1.7M0,-0.55L0.55,0.45L-0.55,0.45Z"}}}}
 ]
},
{"width":272,"height":202,"title":{"text":"(II-c)","offset":-40},"data":{"name":"IIc"},
 "resolve":{"axis":{"x":"independent"}},
 "encoding":{
  "x":{"field":"x","type":"quantitative","scale":{"type":"log","domain":[0.01,10],"nice":false},"axis":{"orient":"bottom","values":[0.01,0.1,1,10],"format":"~g","title":"Shear Rate [1/s]"}},
  "y":{"field":"y","type":"quantitative","scale":{"type":"log","domain":[100,1000000],"nice":false},"axis":{"values":[100,1000,10000,100000,1000000],"labelExpr":"'10' + ['⁰','¹','²','³','⁴','⁵','⁶','⁷','⁸'][round(log(datum.value)/LN10)]","title":"Viscosity [Pa·s]"}},
  "stroke":{"field":"s","type":"nominal","scale":{"domain":["MCC31","MCC29-MFC₂₀2","MCC29-MMT2"],"range":["#b5b5b5","#ffa0a0","#a0a0ff"]},"legend":{"title":null,"symbolType":"M-1.7,0H-0.48M0.48,0H1.7M0.48,0A0.48,0.48,0,1,1,-0.48,0A0.48,0.48,0,1,1,0.48,0Z"}}
 },
 "layer":[
  {"mark":{"type":"line","strokeWidth":1,"clip":true},"encoding":{"x":{"field":"x","type":"quantitative","axis":{"orient":"bottom","values":[0.02,0.03,0.04,0.05,0.06,0.07,0.08,0.09,0.2,0.3,0.4,0.5,0.6,0.7,0.8,0.9,2,3,4,5,6,7,8,9],"labels":false,"domain":false,"tickSize":2,"title":null}}}},
  {"mark":{"type":"point","shape":"circle","filled":true,"size":28,"strokeWidth":0.5,"opacity":1,"clip":true},
   "encoding":{"fill":{"field":"s","type":"nominal","scale":{"domain":["MCC31","MCC29-MFC₂₀2","MCC29-MMT2"],"range":["#000000","#ff0000","#0000ff"]},"legend":{"title":null,"symbolType":"M-1.7,0H-0.48M0.48,0H1.7M0.48,0A0.48,0.48,0,1,1,-0.48,0A0.48,0.48,0,1,1,0.48,0Z"}}}}
 ]
}
]
}
